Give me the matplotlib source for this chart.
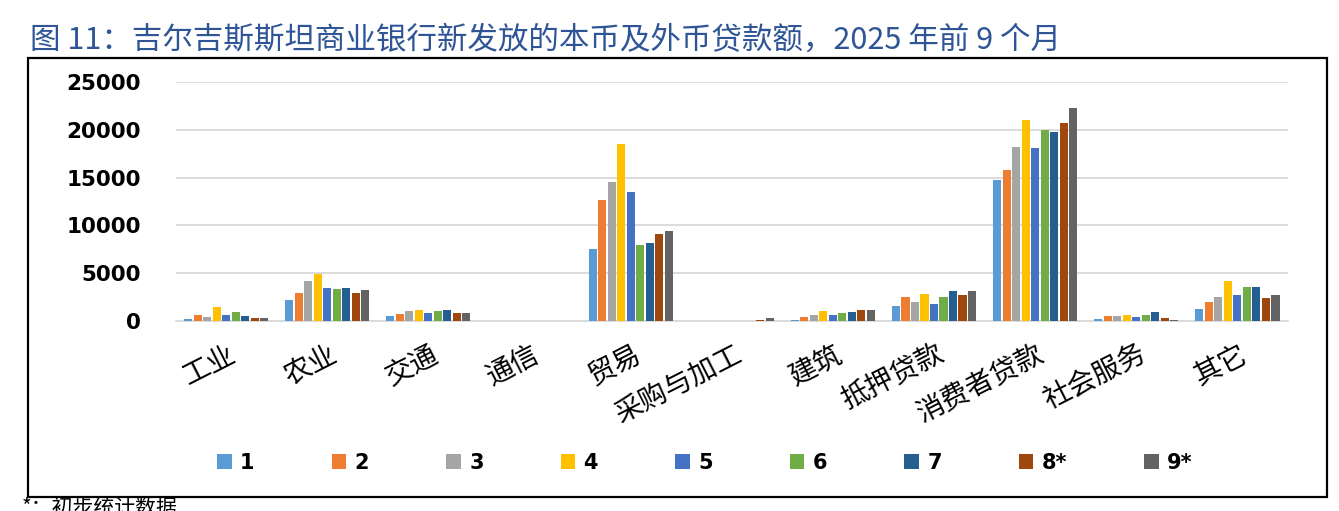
import matplotlib
matplotlib.use("Agg")
import matplotlib.pyplot as plt
import matplotlib.transforms as mtransforms
from matplotlib.patches import Rectangle
import numpy as np

plt.rcParams['font.family'] = ['Noto Sans CJK SC', 'DejaVu Sans']

categories = ["工业", "农业", "交通", "通信", "贸易", "采购与加工", "建筑",
              "抵押贷款", "消费者贷款", "社会服务", "其它"]
series_names = ["1", "2", "3", "4", "5", "6", "7", "8*", "9*"]
m1 = [200, 2220, 555, 0, 7525, 0, 100, 1560, 14760, 210, 1285]
m2 = [590, 2950, 760, 0, 12680, 0, 415, 2500, 15780, 555, 1980]
m3 = [420, 4200, 1075, 0, 14560, 0, 660, 2010, 18180, 555, 2530]
m4 = [1420, 4930, 1180, 0, 18535, 0, 1040, 2775, 21040, 660, 4165]
m5 = [625, 3500, 870, 0, 13450, 0, 625, 1735, 18110, 450, 2740]
m6 = [940, 3370, 1010, 0, 7980, 0, 800, 2460, 19930, 660, 3540]
m7 = [520, 3470, 1145, 0, 8150, 0, 900, 3090, 19790, 940, 3575]
m8 = [280, 2950, 870, 0, 9090, 140, 1110, 2700, 20700, 350, 2430]
m9 = [350, 3230, 870, 0, 9440, 350, 1145, 3090, 22300, 100, 2670]
series = [m1, m2, m3, m4, m5, m6, m7, m8, m9]
colors = ["#5B9BD5", "#ED7D31", "#A5A5A5", "#FFC000", "#4472C4",
          "#70AD47", "#255E91", "#9E480E", "#636363"]
yticks = [0, 5000, 10000, 15000, 20000, 25000]

title = "图 11：吉尔吉斯斯坦商业银行新发放的本币及外币贷款额，2025 年前 9 个月"
footnote = "*：初步统计数据"

W, H = 1339, 511
fig = plt.figure(figsize=(W / 100, H / 100), dpi=100)
ax = fig.add_axes([175.5 / W, 1 - 321 / H, (1288 - 175.5) / W, (321 - 82) / H])

x = np.arange(len(categories))
slot = 0.094
bw = 0.08
n = len(series)
for i, (vals, c, name) in enumerate(zip(series, colors, series_names)):
    ax.bar(x + (i - (n - 1) / 2) * slot, vals, width=bw, color=c, label=name, zorder=3)

ax.set_xlim(-0.5, len(categories) - 0.5)
ax.set_ylim(0, 25000)
ax.set_yticks(yticks)
ax.set_yticklabels([str(v) for v in yticks], fontfamily='DejaVu Sans',
                   fontweight='bold', fontsize=15.5)
ax.grid(axis='y', color='#D9D9D9', linewidth=1.3, zorder=0)
for s in ['top', 'right', 'left']:
    ax.spines[s].set_visible(False)
ax.spines['bottom'].set_color('#D9D9D9')
ax.spines['bottom'].set_linewidth(1.3)
ax.tick_params(axis='both', length=0)
ax.tick_params(axis='y', pad=25)
ax.set_xticks(x)
ax.set_xticklabels(categories, rotation=27, ha='right', rotation_mode='anchor',
                   fontsize=20)
ax.tick_params(axis='x', pad=13)
offset = mtransforms.ScaledTranslation(1 / 100, 0, fig.dpi_scale_trans)
for lab in ax.get_xticklabels():
    lab.set_transform(lab.get_transform() + offset)

leg = fig.legend(loc='center', bbox_to_anchor=(705 / W, 1 - 463 / H), ncol=9,
                 frameon=False, handlelength=0.7, handleheight=0.7,
                 handletextpad=0.4, columnspacing=3.7,
                 prop={'family': 'DejaVu Sans', 'weight': 'bold', 'size': 15})

fig.text(30 / W, 1 - 40 / H, title, fontsize=22, color='#2F5597',
         va='center', ha='left')
fig.patches.append(Rectangle((28 / W, 1 - 497 / H), (1327 - 28) / W, (497 - 58) / H,
                             transform=fig.transFigure, fill=False,
                             edgecolor='black', linewidth=1.6))
fig.text(22 / W, 1 - 498 / H, footnote, fontsize=15, va='top', ha='left')

fig.savefig("out.png", dpi=100)
